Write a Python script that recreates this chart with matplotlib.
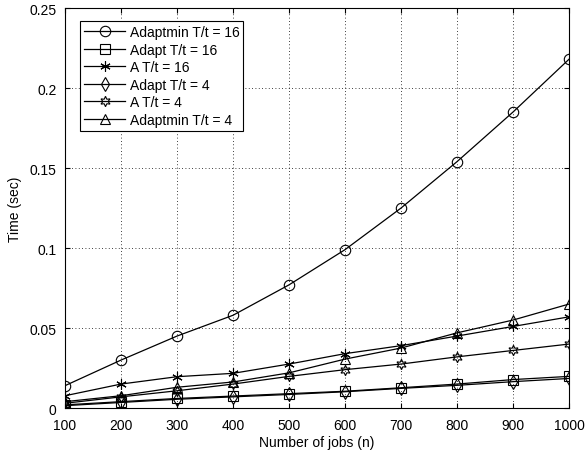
import numpy as np
import matplotlib
matplotlib.use('Agg')
import matplotlib.pyplot as plt

plt.rcParams['font.family'] = ['Liberation Sans', 'DejaVu Sans']

n = [100, 200, 300, 400, 500, 600, 700, 800, 900, 1000]

adaptmin16 = [0.014, 0.030, 0.045, 0.058, 0.077, 0.099, 0.125, 0.154, 0.185, 0.218]
adapt16 = [0.002, 0.004, 0.006, 0.0075, 0.009, 0.0105, 0.0127, 0.015, 0.0178, 0.0198]
a16 = [0.0077, 0.015, 0.0196, 0.0217, 0.0275, 0.034, 0.039, 0.045, 0.051, 0.057]
adapt4 = [0.0015, 0.0035, 0.0055, 0.007, 0.0085, 0.0102, 0.0123, 0.0142, 0.0165, 0.0185]
a4 = [0.003, 0.007, 0.0108, 0.015, 0.0198, 0.024, 0.0275, 0.032, 0.036, 0.040]
adaptmin4 = [0.004, 0.0077, 0.013, 0.0163, 0.022, 0.0306, 0.0375, 0.047, 0.055, 0.065]

series = [
    (adaptmin16, 'o', 'Adaptmin T/t = 16', 7.5),
    (adapt16, 's', 'Adapt T/t = 16', 6.5),
    (a16, (6, 2, 0), 'A T/t = 16', 7.5),
    (adapt4, 'd', 'Adapt T/t = 4', 7.5),
    (a4, (6, 1, 0), 'A T/t = 4', 7.5),
    (adaptmin4, '^', 'Adaptmin T/t = 4', 7.5),
]

fig = plt.figure(figsize=(5.86, 4.52), dpi=100)
ax = fig.add_axes([0.111, 0.095, 0.86, 0.885])

for y, m, lab, ms in series:
    ax.plot(n, y, color='black', marker=m, markersize=ms, markerfacecolor='none',
            markeredgecolor='black', linewidth=0.9, markeredgewidth=0.8, label=lab)

ax.set_xlim(100, 1000)
ax.set_ylim(0, 0.25)
ax.set_xticks(n)
ax.set_yticks([0, 0.05, 0.1, 0.15, 0.2, 0.25])
ax.set_yticklabels(['0', '0.05', '0.1', '0.15', '0.2', '0.25'])
ax.grid(True, linestyle=(0, (1, 3)), color='black', linewidth=0.6)
ax.tick_params(direction='in', labelsize=10, top=True, right=True)
ax.tick_params(axis='x', pad=7)
ax.tick_params(axis='y', pad=6)
ax.set_xlabel('Number of jobs (n)', fontsize=10, labelpad=2)
ax.set_ylabel('Time (sec)', fontsize=10)
ax.yaxis.set_label_coords(-0.085, 0.5)

leg = ax.legend(loc='upper left', fontsize=10, frameon=True, fancybox=False,
                edgecolor='black', framealpha=1, handlelength=3, borderpad=0.3,
                labelspacing=0.25, handletextpad=0.3, bbox_to_anchor=(0.015, 0.985))
leg.get_frame().set_linewidth(0.8)

fig.savefig('out.png', dpi=100)
